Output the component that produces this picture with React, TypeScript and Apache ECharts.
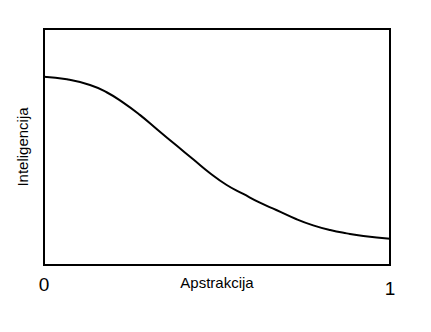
import React, { useEffect, useRef } from "react";
import * as echarts from "echarts";

const xValues = [0, 0.066, 0.133, 0.181, 0.229, 0.277, 0.329, 0.384, 0.432, 0.48, 0.528, 0.576, 0.624, 0.673, 0.73, 0.778, 0.827, 0.875, 0.923, 1.0];
const yValues = [0.798, 0.787, 0.763, 0.732, 0.688, 0.636, 0.572, 0.505, 0.447, 0.389, 0.339, 0.301, 0.264, 0.232, 0.194, 0.168, 0.148, 0.134, 0.123, 0.111];
const xTickLabels = ["0", "1"];
const xAxisName = "Apstrakcija";
const yAxisName = "Inteligencija";

export default function App() {
  const ref = useRef<HTMLDivElement>(null);
  useEffect(() => {
    if (!ref.current) return;
    const chart = echarts.init(ref.current, undefined, { renderer: "svg" });
    const font = "Liberation Sans, Arial, sans-serif";
    chart.setOption({
      animation: false,
      backgroundColor: "#ffffff",
      grid: {
        left: 44,
        right: 41,
        top: 29,
        bottom: 67,
        show: true,
        borderColor: "#000000",
        borderWidth: 2,
        backgroundColor: "transparent",
      },
      xAxis: {
        type: "value",
        min: 0,
        max: 1,
        interval: 1,
        name: xAxisName,
        nameLocation: "middle",
        nameGap: 10,
        nameMoveOverlap: false,
        nameTextStyle: { fontFamily: font, fontSize: 15, color: "#000000", verticalAlign: "top" },
        axisLine: { show: false },
        axisTick: { show: false },
        splitLine: { show: false },
        axisLabel: {
          margin: 10,
          formatter: (v: number) => {
            const i = Math.round(v);
            return i === 0 ? `{a|${xTickLabels[0]}}` : `{b|${xTickLabels[1]}}`;
          },
          rich: {
            a: { fontFamily: font, fontSize: 19, color: "#000000" },
            b: { fontFamily: font, fontSize: 19, color: "#000000", padding: [4, 0, 0, 0] },
          },
        },
      },
      yAxis: {
        type: "value",
        min: 0,
        max: 1,
        name: yAxisName,
        nameLocation: "middle",
        nameGap: 14,
        nameMoveOverlap: false,
        nameTextStyle: { fontFamily: font, fontSize: 15, color: "#000000" },
        axisLine: { show: false },
        axisTick: { show: false },
        axisLabel: { show: false },
        splitLine: { show: false },
      },
      series: [
        {
          type: "line",
          data: xValues.map((x, i) => [x, yValues[i]]),
          smooth: 0.5,
          showSymbol: false,
          lineStyle: { color: "#000000", width: 2 },
        },
      ],
    });
    return () => chart.dispose();
  }, []);
  return (
    <div
      ref={ref}
      style={{ position: "fixed", left: 0, top: 0, width: 431, height: 332 }}
    />
  );
}
